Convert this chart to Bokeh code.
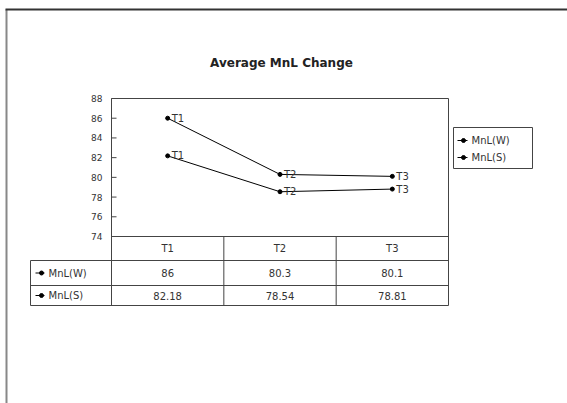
from bokeh.plotting import figure
from bokeh.models import Range1d
from bokeh.core.properties import value
from bokeh.embed import file_html
from bokeh.resources import INLINE

# ---- data ----
categories = ["T1", "T2", "T3"]
series_names = ["MnL(W)", "MnL(S)"]
mnl_w = [86, 80.3, 80.1]
mnl_s = [82.18, 78.54, 78.81]
table_w = ["86", "80.3", "80.1"]
table_s = ["82.18", "78.54", "78.81"]
y_ticks = [74, 76, 78, 80, 82, 84, 86, 88]
title_text = "Average MnL Change"

# ---- layout helpers (page px -> data coords) ----
W, H = 567, 403
OFF = 0
PL, PR, PT, PB = 111, 448, 98, 236   # plot area in page pixels
YMIN, YMAX = 74, 88


def X(px):
    return (px - PL) * len(categories) / (PR - PL)


def Y(py):
    return YMIN + (PB - py) * (YMAX - YMIN) / (PB - PT)


FONT = value("DejaVu Sans")
TXT = "#333333"

p = figure(width=W, height=H, output_backend="svg", toolbar_location=None,
           x_range=Range1d(X(OFF), X(OFF + W)), y_range=Range1d(Y(OFF + H), Y(OFF)),
           x_axis_type=None, y_axis_type=None, min_border=0)
p.outline_line_color = None
p.grid.visible = False
p.background_fill_color = "white"
p.border_fill_color = "white"

# outer chart border (left + top)
p.segment(x0=[X(6)], y0=[Y(9)], x1=[X(6)], y1=[Y(OFF + H)],
          line_color="#888888", line_width=2)
p.segment(x0=[X(5)], y0=[Y(9)], x1=[X(OFF + W)], y1=[Y(9)],
          line_color="#333333", line_width=2)

# title
p.text(x=[X(281)], y=[Y(62)], text=[title_text], text_font=FONT,
       text_font_size="12px", text_font_style="bold", text_align="center",
       text_baseline="middle", text_color="#222222")

# plot frame and table grid
TB1, TB2, TB3 = 260, 285, 305
TL = 30
hx0 = [X(PL), X(PL), X(TL), X(TL), X(TL)]
hy = [Y(PT), Y(PB), Y(TB1), Y(TB2), Y(TB3)]
hx1 = [X(PR)] * 5
p.segment(x0=hx0, y0=hy, x1=hx1, y1=hy, line_color="#444444", line_width=1)
vx = [X(PL), X(PR), 1, 2, X(TL)]
vy0 = [Y(PT), Y(PT), Y(PB), Y(PB), Y(TB1)]
vy1 = [Y(TB3)] * 5
p.segment(x0=vx, y0=vy0, x1=vx, y1=vy1, line_color="#444444", line_width=1)

# y ticks (inside) and labels
p.segment(x0=[X(PL)] * len(y_ticks), y0=y_ticks, x1=[X(PL + 5)] * len(y_ticks), y1=y_ticks,
          line_color="#444444")
p.text(x=[X(102)] * len(y_ticks), y=y_ticks, text=[str(t) for t in y_ticks],
       text_font=FONT, text_font_size="9px", text_align="right",
       text_baseline="middle", text_color=TXT)

# data lines
xs = [i + 0.5 for i in range(len(categories))]
for vals in (mnl_w, mnl_s):
    p.line(xs, vals, line_color="black", line_width=1)
    p.scatter(xs, vals, marker="circle", size=4, fill_color="black", line_color="black")
    p.text(x=xs, y=vals, text=categories, x_offset=4, text_font=FONT,
           text_font_size="10px", text_baseline="middle", text_color=TXT)

# table: categories row
p.text(x=xs, y=[Y((PB + TB1) / 2)] * 3, text=categories, text_font=FONT,
       text_font_size="10px", text_align="center", text_baseline="middle", text_color=TXT)
# table rows
for row_vals, name, ymid in ((table_w, series_names[0], (TB1 + TB2) / 2),
                             (table_s, series_names[1], (TB2 + TB3) / 2)):
    p.text(x=xs, y=[Y(ymid)] * 3, text=row_vals, text_font=FONT,
           text_font_size="10px", text_align="center", text_baseline="middle", text_color=TXT)
    p.segment(x0=[X(35)], y0=[Y(ymid)], x1=[X(44)], y1=[Y(ymid)], line_color="black")
    p.scatter([X(41)], [Y(ymid)], marker="circle", size=4, fill_color="black", line_color="black")
    p.text(x=[X(48)], y=[Y(ymid)], text=[name], text_font=FONT,
           text_font_size="10px", text_baseline="middle", text_color=TXT)

# legend box
LX0, LX1, LY0, LY1 = 453, 532, 127, 168
p.quad(left=[X(LX0)], right=[X(LX1)], top=[Y(LY0)], bottom=[Y(LY1)],
       fill_color="white", line_color="#444444")
for name, ly in zip(series_names, (140, 157)):
    p.segment(x0=[X(457)], y0=[Y(ly)], x1=[X(467)], y1=[Y(ly)], line_color="black")
    p.scatter([X(463)], [Y(ly)], marker="circle", size=4, fill_color="black", line_color="black")
    p.text(x=[X(471)], y=[Y(ly)], text=[name], text_font=FONT,
           text_font_size="10px", text_baseline="middle", text_color=TXT)

open("out.html", "w").write(file_html(p, INLINE))
